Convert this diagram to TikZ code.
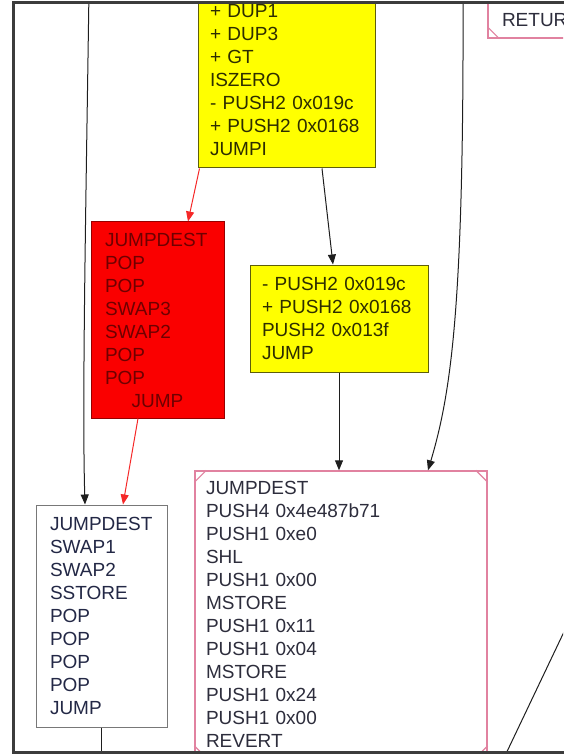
\documentclass[tikz,border=0pt]{standalone}
\usepackage{fontspec}
\setmainfont{Liberation Sans}
\usetikzlibrary{arrows.meta}
\definecolor{yyfill}{RGB}{255,255,0}
\definecolor{yyline}{RGB}{95,95,10}
\definecolor{yytext}{RGB}{45,45,0}
\definecolor{rrfill}{RGB}{250,0,0}
\definecolor{rrline}{RGB}{150,0,0}
\definecolor{rrtext}{RGB}{110,0,0}
\definecolor{wwline}{RGB}{120,120,120}
\definecolor{wwtext}{RGB}{35,40,70}
\definecolor{mmline}{RGB}{225,130,160}
\definecolor{mmtext}{RGB}{45,45,60}
\definecolor{eblack}{RGB}{30,30,30}
\definecolor{ered}{RGB}{245,40,40}
\definecolor{framegray}{RGB}{60,60,60}
\begin{document}
\begin{tikzpicture}[x=0.5pt, y=-0.5pt, >={Triangle[length=5pt,width=4pt]},
    blk/.style={draw, rectangle, align=left, inner ysep=0pt, inner xsep=7pt,
      line width=0.5pt, font=\fontsize{9.5}{11.5}\selectfont},
    ybox/.style={blk, fill=yyfill, draw=yyline, text=yytext},
    rbox/.style={blk, fill=rrfill, draw=rrline, text=rrtext},
    wbox/.style={blk, fill=white, draw=wwline, text=wwtext},
    mbox/.style={blk, fill=white, draw=mmline, text=mmtext, line width=0.7pt},
    flow/.style={->, draw=eblack, line width=0.5pt},
    redflow/.style={->, draw=ered, line width=0.5pt}]
  \useasboundingbox (0,0) rectangle (563,754);
  \begin{scope}
    \clip (15,4) rectangle (563,751);
    % basic blocks
    \node[ybox, inner xsep=6pt, text width=76.5pt, minimum height=88pt] (b1) at (286.5,80)
      {+ DUP1\\+ DUP3\\+ GT\\ISZERO\\- PUSH2 0x019c\\+ PUSH2 0x0168\\JUMPI};
    \node[rbox, text width=52.5pt, minimum height=98pt] (b2) at (157.5,320)
      {JUMPDEST\\POP\\POP\\SWAP3\\SWAP2\\POP\\POP\\\hspace*{\fill}JUMP\hspace*{\fill}};
    \node[ybox, inner xsep=6pt, text width=77pt, minimum height=53.5pt] (b3) at (339,318.5)
      {- PUSH2 0x019c\\+ PUSH2 0x0168\\PUSH2 0x013f\\JUMP};
    \node[wbox, text width=51.5pt, minimum height=111pt] (b4) at (101.5,616)
      {JUMPDEST\\SWAP1\\SWAP2\\SSTORE\\POP\\POP\\POP\\POP\\JUMP};
    \node[mbox, inner xsep=5.5pt, text width=135pt, minimum height=143pt] (b5) at (341,614)
      {JUMPDEST\\PUSH4 0x4e487b71\\PUSH1 0xe0\\SHL\\PUSH1 0x00\\MSTORE\\PUSH1 0x11\\PUSH1 0x04\\MSTORE\\PUSH1 0x24\\PUSH1 0x00\\REVERT};
    \node[mbox, text width=46pt, text height=17.5pt, text depth=5.5pt] (b6) at (548,15) {RETURN};
    % corner marks of the terminal blocks
    \foreach \n in {b5,b6} {
      \draw[mmline, line width=0.6pt] ([yshift=-6pt]\n.north west) -- ([xshift=6pt]\n.north west);
      \draw[mmline, line width=0.6pt] ([xshift=-6pt]\n.north east) -- ([yshift=-6pt]\n.north east);
      \draw[mmline, line width=0.6pt] ([yshift=6pt]\n.south east) -- ([xshift=-6pt]\n.south east);
      \draw[mmline, line width=0.6pt] ([xshift=6pt]\n.south west) -- ([yshift=6pt]\n.south west);
    }
    % edges
    \draw[redflow] ([xshift=1pt]b1.south west) -- ([xshift=15.25pt]b2.north);
    \draw[flow] ([xshift=17.75pt]b1.south) -- ([xshift=-3pt]b3.north);
    \draw[redflow] ([xshift=-9.75pt]b2.south) -- ([xshift=10.75pt]b4.north);
    \draw[flow] (b3.south) -- ([xshift=-1pt]b5.north);
    \coordinate (in1) at (89,-10);
    \draw[flow] (in1) .. controls (86,200) and (82,400) .. ([xshift=-8.25pt]b4.north);
    \coordinate (in2) at (463,-10);
    \draw[flow] (in2) .. controls (464,300) and (452,390) .. ([xshift=43.5pt]b5.north);
    \coordinate (out1) at (101.5,765);
    \draw[draw=eblack, line width=0.5pt] (b4.south) -- (out1);
    \coordinate (c1) at (503,760);
    \coordinate (c2) at (572,615);
    \draw[draw=eblack, line width=0.5pt] (c1) -- (c2);
  \end{scope}
  % frame
  \draw[framegray, line width=1.6pt] (570,2.5) -- (13.5,2.5) -- (13.5,752.5) -- (570,752.5);
\end{tikzpicture}
\end{document}
